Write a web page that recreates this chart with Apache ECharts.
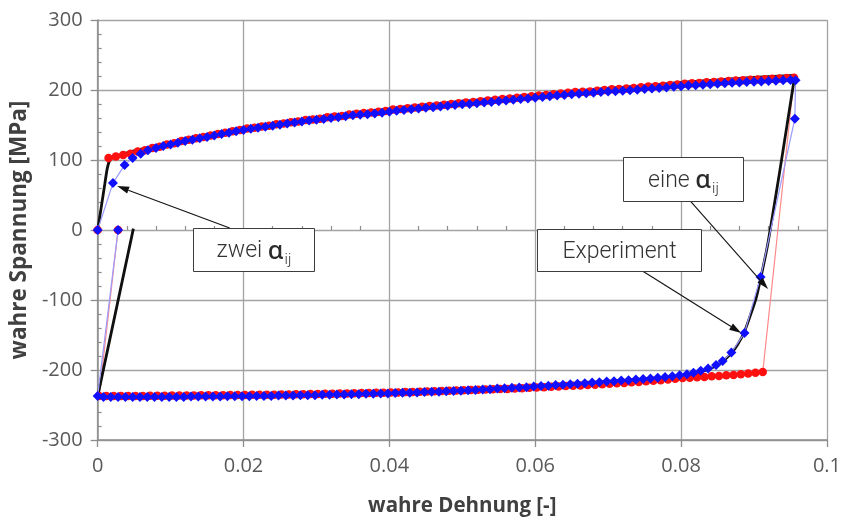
<!DOCTYPE html>
<html>
<head>
<meta charset="utf-8">
<script src="https://cdn.jsdelivr.net/npm/echarts@6/dist/echarts.min.js"></script>
<style>
  html, body { margin: 0; padding: 0; background: #ffffff; }
  #chart { width: 844px; height: 522px; }
</style>
</head>
<body>
<div id="chart"></div>
<script>
// Tick labels of both axes
const strainTicks = ['0', '0.02', '0.04', '0.06', '0.08', '0.1'];
const stressTicks = ['-300', '-200', '-100', '0', '100', '200', '300'];

// Measured stress-strain loop (true strain [-], true stress [MPa])
const experiment = [
  [0, 0], [0.0005, 33], [0.001, 67], [0.0013, 87], [0.0016, 98], [0.002, 103], [0.003, 107],
  [0.005, 113], [0.0075, 119], [0.01, 125], [0.015, 136], [0.02, 145], [0.025, 152.5],
  [0.03, 160], [0.035, 166.5], [0.04, 172.5], [0.045, 178], [0.05, 183], [0.055, 188],
  [0.06, 193], [0.065, 197.5], [0.07, 202], [0.075, 206], [0.08, 211], [0.085, 214.5],
  [0.09, 218], [0.0956, 221],
  [0.0945, 148], [0.0935, 82], [0.0925, 18], [0.0918, -25], [0.091, -65], [0.0903, -97],
  [0.0895, -122], [0.0887, -145], [0.0878, -163], [0.0869, -176], [0.0858, -187],
  [0.0848, -194], [0.0835, -200], [0.082, -205], [0.0805, -208], [0.079, -210],
  [0.077, -212.5], [0.075, -214.5], [0.072, -216], [0.07, -217], [0.065, -220],
  [0.06, -223.5], [0.055, -226.5], [0.05, -229], [0.045, -231], [0.04, -233],
  [0.03, -235.5], [0.02, -237], [0.01, -238], [0, -238],
  [0.0049, 2]
];

// Simulation with one alpha_ij (red)
const eineAlpha = [
  [0, 0],
  [0.0015, 103], [0.0025, 105], [0.0035, 107], [0.0045, 109], [0.0055, 112], [0.0065, 114],
  [0.0075, 117], [0.0085, 119], [0.0095, 122], [0.0105, 124], [0.0115, 127], [0.0125, 129],
  [0.0135, 131], [0.0145, 133], [0.0155, 135], [0.0165, 137], [0.0175, 139], [0.0185, 141],
  [0.0195, 143], [0.0205, 145], [0.0215, 146], [0.0225, 148], [0.0235, 149], [0.0245, 151],
  [0.0255, 152], [0.0265, 154], [0.0275, 155], [0.0285, 157], [0.0295, 158], [0.0305, 159],
  [0.0315, 161], [0.0325, 162], [0.0335, 163], [0.0345, 165], [0.0355, 166], [0.0365, 167],
  [0.0375, 168], [0.0385, 169], [0.0395, 170], [0.0405, 172], [0.0415, 173], [0.0425, 174],
  [0.0435, 175], [0.0445, 176], [0.0455, 177], [0.0465, 178], [0.0475, 179], [0.0485, 180],
  [0.0495, 181], [0.0505, 182], [0.0515, 183], [0.0525, 184], [0.0535, 185], [0.0545, 186],
  [0.0555, 187], [0.0565, 188], [0.0575, 189], [0.0585, 190], [0.0595, 191], [0.0605, 192],
  [0.0615, 193], [0.0625, 194], [0.0635, 195], [0.0645, 196], [0.0655, 197], [0.0665, 197.5],
  [0.0675, 198], [0.0685, 199], [0.0695, 200], [0.0705, 201], [0.0715, 201.5], [0.0725, 202],
  [0.0735, 203], [0.0745, 204], [0.0755, 205], [0.0765, 205.5], [0.0775, 206], [0.0785, 207],
  [0.0795, 208], [0.0805, 209], [0.0815, 209.5], [0.0825, 210], [0.0835, 211], [0.0845, 211.5],
  [0.0855, 212], [0.0865, 213], [0.0875, 213.5], [0.0885, 214], [0.0895, 214.5], [0.0905, 215],
  [0.0915, 215.5], [0.0925, 216], [0.0935, 216.5], [0.0945, 217], [0.0955, 217.5],
  [0.0912, -203], [0.0902, -204], [0.0892, -205], [0.0882, -206], [0.0872, -207], [0.0862, -207.5],
  [0.0852, -208.5], [0.0842, -209], [0.0832, -210], [0.0822, -210.5], [0.0812, -211], [0.0802, -211.5],
  [0.0792, -212.5], [0.0782, -213.5], [0.0772, -214.5], [0.0762, -215.5], [0.0752, -216], [0.0742, -217],
  [0.0732, -217.5], [0.0722, -218.5], [0.0712, -219], [0.0702, -219.5], [0.0692, -220.5], [0.0682, -221],
  [0.0672, -221.5], [0.0662, -222], [0.0652, -222.5], [0.0642, -223], [0.0632, -223.5], [0.0622, -224],
  [0.0612, -224.5], [0.0602, -225], [0.0592, -225.5], [0.0582, -226], [0.0572, -226.5], [0.0562, -227],
  [0.0552, -227.3], [0.0542, -227.6], [0.0532, -228], [0.0522, -228.3], [0.0512, -228.6], [0.0502, -229],
  [0.0492, -229.3], [0.0482, -229.6], [0.0472, -230], [0.0462, -230.3], [0.0452, -230.6], [0.0442, -231],
  [0.0432, -231.3], [0.0422, -231.6], [0.0412, -232], [0.0402, -232.2], [0.0392, -232.4], [0.0382, -232.6],
  [0.0372, -232.8], [0.0362, -233], [0.0352, -233.2], [0.0342, -233.4], [0.0332, -233.6], [0.0322, -233.8],
  [0.0312, -234], [0.0302, -234.2], [0.0292, -234.4], [0.0282, -234.6], [0.0272, -234.8], [0.0262, -235],
  [0.0252, -235.1], [0.0242, -235.2], [0.0232, -235.3], [0.0222, -235.4], [0.0212, -235.5], [0.0202, -235.6],
  [0.0192, -235.7], [0.0182, -235.8], [0.0172, -235.9], [0.0162, -236], [0.0152, -236.1], [0.0142, -236.2],
  [0.0132, -236.3], [0.0122, -236.4], [0.0112, -236.5], [0.0102, -236.6], [0.0092, -236.7], [0.0082, -236.8],
  [0.0072, -236.9], [0.0062, -237], [0.0052, -237], [0.0042, -237], [0.0032, -237], [0.0022, -237],
  [0.0012, -237], [0.0002, -237],
  [0.0028, 0]
];

// Simulation with two alpha_ij (blue)
const zweiAlpha = [
  [0, 0], [0.0021, 67], [0.0037, 93], [0.0048, 103], [0.0059, 109], [0.0069, 114], [0.008, 117],
  [0.009, 120], [0.010, 122], [0.011, 124.5], [0.012, 127], [0.013, 129], [0.014, 131], [0.015, 133],
  [0.016, 135], [0.017, 137], [0.018, 139], [0.019, 141], [0.020, 143], [0.021, 144.5], [0.022, 146],
  [0.023, 147.5], [0.024, 149], [0.025, 150.5], [0.026, 152], [0.027, 153.5], [0.028, 155],
  [0.029, 156.5], [0.030, 157.5], [0.031, 158.5], [0.032, 160], [0.033, 161], [0.034, 162.5],
  [0.035, 164], [0.036, 164.5], [0.037, 165.5], [0.038, 166.5], [0.039, 167.5], [0.040, 169],
  [0.041, 170.5], [0.042, 171.5], [0.043, 172.5], [0.044, 173.5], [0.045, 174.5], [0.046, 175.5],
  [0.047, 176.5], [0.048, 177.5], [0.049, 178.5], [0.050, 179.5], [0.051, 180], [0.052, 181],
  [0.053, 182], [0.054, 183], [0.055, 184], [0.056, 185], [0.057, 186], [0.058, 187], [0.059, 188],
  [0.060, 189], [0.061, 190], [0.062, 191], [0.063, 192], [0.064, 193], [0.065, 194], [0.066, 194.8],
  [0.067, 195.3], [0.068, 196], [0.069, 197], [0.070, 198], [0.071, 198.3], [0.072, 198.8],
  [0.073, 199.5], [0.074, 200.5], [0.075, 201.5], [0.076, 202.3], [0.077, 202.8], [0.078, 203.5],
  [0.079, 204.5], [0.080, 205.5], [0.081, 206.3], [0.082, 206.8], [0.083, 207.5], [0.084, 208.3],
  [0.085, 208.8], [0.086, 209.5], [0.087, 210.3], [0.088, 210.8], [0.089, 211.3], [0.090, 211.8],
  [0.091, 212.3], [0.092, 212.8], [0.093, 213.3], [0.094, 213.8], [0.095, 214.3], [0.0957, 214],
  [0.0956, 159], [0.0909, -67], [0.0887, -147], [0.0869, -175], [0.0857, -187], [0.0848, -193],
  [0.0837, -198], [0.0827, -201], [0.0817, -204], [0.0808, -206], [0.0798, -207.5], [0.0788, -209],
  [0.0778, -210], [0.0768, -211], [0.0758, -212], [0.0748, -213], [0.0738, -213.5], [0.0728, -214.5],
  [0.0718, -215], [0.0708, -216], [0.0698, -216.5], [0.0688, -217.5], [0.0678, -218], [0.0668, -219],
  [0.0658, -219.5], [0.0648, -220.5], [0.0638, -221], [0.0628, -221.5], [0.0618, -222.5], [0.0608, -223],
  [0.0598, -223.5], [0.0588, -224.5], [0.0578, -225], [0.0568, -225.5], [0.0558, -226], [0.0548, -226.5],
  [0.0538, -227.5], [0.0528, -228], [0.0518, -228.5], [0.0508, -229], [0.0498, -229.5], [0.0488, -230],
  [0.0478, -230.5], [0.0468, -231], [0.0458, -231], [0.0448, -231.5], [0.0438, -232], [0.0428, -232.5],
  [0.0418, -232.5], [0.0408, -233], [0.0398, -233.5], [0.0388, -233.5], [0.0378, -234], [0.0368, -234],
  [0.0358, -234.5], [0.0348, -234.5], [0.0338, -235], [0.0328, -235], [0.0318, -235.5], [0.0308, -235.5],
  [0.0298, -236], [0.0288, -236], [0.0278, -236], [0.0268, -236.5], [0.0258, -236.5], [0.0248, -236.5],
  [0.0238, -237], [0.0228, -237], [0.0218, -237], [0.0208, -237.5], [0.0198, -237.5], [0.0188, -237.5],
  [0.0178, -237.5], [0.0168, -238], [0.0158, -238], [0.0148, -238], [0.0138, -238], [0.0128, -238],
  [0.0118, -238.5], [0.0108, -238.5], [0.0098, -238.5], [0.0088, -238.5], [0.0078, -238.5], [0.0068, -238.5],
  [0.0058, -238.5], [0.0048, -238.5], [0.0038, -238.5], [0.0028, -238.5], [0.0018, -238.5], [0.0008, -238.5],
  [0, -237],
  [0.0028, 0]
];

// Callout boxes: label parts, box corners and arrow (data coordinates)
const callouts = [
  { head: 'zwei ', box: [[0.01306, 2.9], [0.0296, -58.6]], arrow: [[0.01811, 2.9], [0.00267, 62.9]] },
  { head: 'eine ', box: [[0.07198, 104.3], [0.08838, 41.4]], arrow: [[0.08128, 41.4], [0.09193, -84.3]] },
  { head: 'Experiment', box: [[0.06022, 1.4], [0.08264, -58.6]], arrow: [[0.07471, -58.6], [0.08824, -147.1]] }
];

const chart = echarts.init(document.getElementById('chart'), null, { renderer: 'canvas' });

const gridColor = '#a3a3a3';
const labelFont = "'Open Sans', 'Noto Sans', sans-serif";

const majorAxisCommon = {
  axisLine: { show: true, onZero: false, lineStyle: { color: '#8c8c8c', width: 1.5 } },
  axisTick: { show: true, inside: false, length: 7, lineStyle: { color: '#8c8c8c', width: 1.3 } },
  splitLine: { show: true, lineStyle: { color: gridColor, width: 1.3 } },
  minorTick: { show: false }
};

const minorAxisCommon = {
  axisLine: { show: false },
  axisLabel: { show: false },
  axisTick: { show: false, inside: true },
  splitLine: { show: false },
  minorTick: { show: true, splitNumber: 5, length: 4, lineStyle: { color: '#8c8c8c', width: 1.2 } }
};

const option = {
  backgroundColor: '#ffffff',
  animation: false,
  grid: { left: 97, right: 15, top: 20, bottom: 82, containLabel: false },
  xAxis: [
    Object.assign({
      type: 'value', min: 0, max: 0.1, interval: 0.02, position: 'bottom',
      name: 'wahre Dehnung [-]', nameLocation: 'middle', nameGap: 56,
      nameTextStyle: { fontFamily: labelFont, fontWeight: 'bold', fontSize: 20.5, color: '#404040' },
      axisLabel: {
        margin: 16, fontFamily: labelFont, fontSize: 20, color: '#595959',
        formatter: (v, i) => strainTicks[i]
      }
    }, majorAxisCommon),
    Object.assign({ type: 'value', min: 0, max: 0.1, interval: 0.02, position: 'bottom' }, minorAxisCommon)
  ],
  yAxis: [
    Object.assign({
      type: 'value', min: -300, max: 300, interval: 100, position: 'left',
      name: 'wahre Spannung [MPa]', nameLocation: 'middle', nameGap: 64,
      nameTextStyle: { fontFamily: labelFont, fontWeight: 'bold', fontSize: 22.5, color: '#404040' },
      axisLabel: {
        margin: 15, fontFamily: labelFont, fontSize: 20, color: '#595959',
        formatter: (v, i) => stressTicks[i]
      }
    }, majorAxisCommon),
    Object.assign({ type: 'value', min: -300, max: 300, interval: 100, position: 'left' }, minorAxisCommon)
  ],
  series: [
    {
      name: 'eine αij', type: 'line', data: eineAlpha, xAxisIndex: 0, yAxisIndex: 0,
      symbol: 'circle', symbolSize: 8.5, showSymbol: true, showAllSymbol: true,
      itemStyle: { color: '#ff1010' },
      lineStyle: { color: '#ff8a8a', width: 1.2 },
      emphasis: { disabled: true }, silent: true
    },
    {
      name: 'Experiment', type: 'line', data: experiment, xAxisIndex: 0, yAxisIndex: 0,
      symbol: 'none', smooth: 0.2,
      lineStyle: { color: '#101010', width: 2.8 },
      emphasis: { disabled: true }, silent: true
    },
    {
      name: 'zwei αij', type: 'line', data: zweiAlpha, xAxisIndex: 0, yAxisIndex: 0,
      symbol: 'diamond', symbolSize: 10, showSymbol: true, showAllSymbol: true,
      itemStyle: { color: '#1010ff' },
      lineStyle: { color: '#9a9aff', width: 1.2 },
      emphasis: { disabled: true }, silent: true
    }
  ]
};

chart.setOption(option);

// Callout boxes and arrows placed through the axes' own scales
const textFont = "Roboto, 'Open Sans', sans-serif";
const toPx = p => chart.convertToPixel({ gridIndex: 0 }, p);
const graphics = [];
callouts.forEach(c => {
  // arrow: thin line with a narrow filled head at the target
  const a = toPx(c.arrow[0]);
  const b = toPx(c.arrow[1]);
  const dx = b[0] - a[0], dy = b[1] - a[1];
  const len = Math.hypot(dx, dy);
  const ux = dx / len, uy = dy / len;
  const headLen = 12, headHalf = 3.6;
  const base = [b[0] - ux * headLen, b[1] - uy * headLen];
  graphics.push({
    type: 'line', z: 90,
    shape: { x1: a[0], y1: a[1], x2: base[0], y2: base[1] },
    style: { stroke: '#111111', lineWidth: 1.1 }
  });
  graphics.push({
    type: 'polygon', z: 90,
    shape: { points: [b, [base[0] - uy * headHalf, base[1] + ux * headHalf], [base[0] + uy * headHalf, base[1] - ux * headHalf]] },
    style: { fill: '#111111' }
  });

  // label box
  const p1 = toPx(c.box[0]);
  const p2 = toPx(c.box[1]);
  const left = Math.round(Math.min(p1[0], p2[0])) + 0.5;
  const top = Math.round(Math.min(p1[1], p2[1])) + 0.5;
  const w = Math.round(Math.abs(p2[0] - p1[0]));
  const h = Math.round(Math.abs(p2[1] - p1[1]));
  const isAlpha = c.head !== 'Experiment';
  const text = isAlpha ? '{t|' + c.head + '}{a|α}{s|ij}' : '{t|' + c.head + '}';
  graphics.push({
    type: 'rect', z: 100, shape: { x: left, y: top, width: w, height: h },
    style: { fill: '#ffffff', stroke: '#3c3c3c', lineWidth: 1 }
  });
  graphics.push({
    type: 'text', z: 101, x: left + w / 2, y: top + h / 2 + 1.5,
    style: {
      text: text, align: 'center', verticalAlign: 'middle',
      rich: {
        t: { fontFamily: textFont, fontWeight: 300, fontSize: 23, fill: '#333333', lineHeight: 26 },
        a: { fontFamily: "'Noto Sans', sans-serif", fontWeight: 500, fontSize: 25, fill: '#2a2a2a', lineHeight: 26 },
        s: { fontFamily: textFont, fontWeight: 300, fontSize: 15, fill: '#333333', lineHeight: 15, padding: [17, 0, 0, 1] }
      }
    }
  });
});

chart.setOption({ graphic: graphics });
</script>
</body>
</html>
